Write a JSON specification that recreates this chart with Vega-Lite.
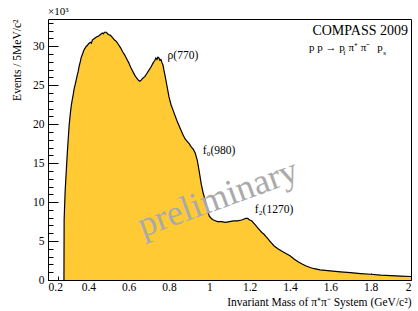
{
"$schema": "https://vega.github.io/schema/vega-lite/v6.json",
"autosize": {"type": "none"},
"padding": {"left": 48, "top": 19, "right": 7, "bottom": 31},
"width": 363,
"height": 261,
"config": {
  "font": "Liberation Serif",
  "view": {"stroke": "black", "strokeWidth": 1},
  "axis": {"labelFont": "Liberation Serif", "titleFont": "Liberation Serif", "labelFontSize": 11.5, "titleFontSize": 11.5, "labelColor": "black", "titleColor": "black", "tickColor": "black", "titleFontWeight": "normal", "grid": false, "domain": false, "zindex": 1}
},
"title": {"text": "×10³", "anchor": "start", "frame": "group", "fontSize": 11, "fontWeight": "normal", "font": "Liberation Serif", "offset": 2, "color": "black"},
"datasets": {
  "hist": [
{"m":0.279,"n":0},{"m":0.28,"n":7.7},{"m":0.285,"n":11.4},{"m":0.29,"n":13.7},{"m":0.295,"n":16.0},{"m":0.30,"n":18.0},{"m":0.305,"n":19.9},{"m":0.31,"n":21.2},{"m":0.315,"n":22.3},{"m":0.32,"n":23.1},{"m":0.325,"n":23.8},{"m":0.33,"n":24.6},{"m":0.335,"n":25.1},{"m":0.34,"n":25.7},{"m":0.345,"n":26.3},{"m":0.35,"n":26.8},{"m":0.355,"n":27.5},{"m":0.36,"n":28.0},{"m":0.365,"n":28.6},{"m":0.37,"n":28.9},{"m":0.375,"n":29.3},{"m":0.38,"n":29.6},{"m":0.385,"n":29.8},{"m":0.39,"n":30.0},{"m":0.395,"n":30.1},{"m":0.40,"n":30.3},{"m":0.41,"n":30.5},{"m":0.415,"n":30.4},{"m":0.42,"n":30.8},{"m":0.43,"n":31.0},{"m":0.44,"n":31.2},{"m":0.45,"n":31.3},{"m":0.46,"n":31.5},{"m":0.47,"n":31.7},{"m":0.475,"n":31.6},{"m":0.48,"n":31.8},{"m":0.49,"n":31.8},{"m":0.495,"n":31.6},{"m":0.50,"n":31.5},{"m":0.51,"n":31.4},{"m":0.52,"n":31.1},{"m":0.53,"n":30.8},{"m":0.54,"n":30.6},{"m":0.55,"n":30.2},{"m":0.56,"n":29.8},{"m":0.57,"n":29.3},{"m":0.58,"n":28.9},{"m":0.59,"n":28.4},{"m":0.60,"n":27.9},{"m":0.61,"n":27.3},{"m":0.62,"n":26.8},{"m":0.63,"n":26.3},{"m":0.64,"n":25.9},{"m":0.65,"n":25.6},{"m":0.655,"n":25.5},{"m":0.66,"n":25.6},{"m":0.67,"n":25.9},{"m":0.68,"n":26.1},{"m":0.69,"n":26.5},{"m":0.70,"n":26.9},{"m":0.71,"n":27.3},{"m":0.72,"n":27.8},{"m":0.73,"n":28.2},{"m":0.735,"n":28.5},{"m":0.74,"n":28.3},{"m":0.745,"n":28.6},{"m":0.75,"n":28.5},{"m":0.755,"n":28.2},{"m":0.76,"n":28.3},{"m":0.765,"n":27.9},{"m":0.77,"n":27.6},{"m":0.775,"n":26.9},{"m":0.78,"n":26.3},{"m":0.79,"n":24.9},{"m":0.80,"n":23.5},{"m":0.81,"n":22.5},{"m":0.82,"n":21.8},{"m":0.83,"n":21.1},{"m":0.84,"n":20.4},{"m":0.85,"n":19.8},{"m":0.86,"n":19.2},{"m":0.87,"n":18.6},{"m":0.88,"n":18.1},{"m":0.89,"n":17.8},{"m":0.90,"n":17.5},{"m":0.91,"n":17.1},{"m":0.92,"n":16.8},{"m":0.93,"n":16.3},{"m":0.94,"n":15.4},{"m":0.95,"n":13.9},{"m":0.96,"n":12.3},{"m":0.97,"n":11.1},{"m":0.98,"n":10.2},{"m":0.99,"n":9.0},{"m":1.00,"n":8.2},{"m":1.01,"n":7.9},{"m":1.02,"n":7.7},{"m":1.03,"n":7.6},{"m":1.04,"n":7.5},{"m":1.06,"n":7.5},{"m":1.08,"n":7.4},{"m":1.10,"n":7.5},{"m":1.12,"n":7.6},{"m":1.14,"n":7.6},{"m":1.16,"n":7.7},{"m":1.17,"n":7.8},{"m":1.18,"n":7.9},{"m":1.19,"n":7.9},{"m":1.20,"n":7.7},{"m":1.21,"n":7.6},{"m":1.22,"n":7.3},{"m":1.23,"n":7.0},{"m":1.24,"n":6.7},{"m":1.25,"n":6.4},{"m":1.26,"n":6.1},{"m":1.27,"n":5.9},{"m":1.28,"n":5.6},{"m":1.29,"n":5.3},{"m":1.30,"n":5.0},{"m":1.31,"n":4.7},{"m":1.32,"n":4.4},{"m":1.33,"n":4.2},{"m":1.34,"n":4.0},{"m":1.36,"n":3.7},{"m":1.38,"n":3.4},{"m":1.40,"n":3.1},{"m":1.42,"n":2.7},{"m":1.44,"n":2.35},{"m":1.46,"n":2.05},{"m":1.48,"n":1.8},{"m":1.50,"n":1.6},{"m":1.52,"n":1.45},{"m":1.55,"n":1.3},{"m":1.60,"n":1.18},{"m":1.65,"n":1.05},{"m":1.70,"n":0.94},{"m":1.75,"n":0.83},{"m":1.80,"n":0.74},{"m":1.85,"n":0.62},{"m":1.90,"n":0.56},{"m":1.95,"n":0.51},{"m":2.00,"n":0.45}
  ],
  "peaks": [
    {"m":0.793,"n":28.8,"t":"ρ(770)"},
    {"m":0.967,"n":16.5,"t":"f₀(980)"},
    {"m":1.225,"n":9.0,"t":"f₂(1270)"}
  ],
  "head": [{"m":1.985,"n":31.9,"t":"COMPASS 2009"}],
  "react": [
    {"m":1.494,"n":29.8,"t":"p p → p"},
    {"m":1.69,"n":29.8,"t":"π⁺ π⁻"},
    {"m":1.833,"n":29.8,"t":"p"}
  ],
  "subs": [
    {"m":1.664,"n":29.2,"t":"f"},
    {"m":1.862,"n":29.2,"t":"s"}
  ],
  "wm": [{"m":1.042,"n":10.5,"t":"preliminary"}]
},
"layer": [
  {
    "data": {"name": "hist"},
    "mark": {"type": "area", "color": "#ffca33", "interpolate": "linear"},
    "encoding": {
      "x": {"field": "m", "type": "quantitative", "scale": {"domain": [0.2, 2.0], "nice": false, "zero": false},
        "axis": {"orient": "bottom", "values": [0.2,0.4,0.6,0.8,1.0,1.2,1.4,1.6,1.8,2.0], "format": "~g", "tickSize": -7, "labelPadding": 8, "title": "Invariant Mass of π⁺π⁻ System (GeV/c²)", "titleX": 363, "titleY": 22, "titleAlign": "right", "titleBaseline": "middle", "titleAnchor": null}},
      "y": {"field": "n", "type": "quantitative", "scale": {"domain": [0, 33.5], "nice": false},
        "axis": {"orient": "left", "values": [0,5,10,15,20,25,30], "tickSize": -10, "labelPadding": 14, "title": "Events / 5MeV/c²", "titleX": -31, "titleY": 0, "titleAngle": 270, "titleAlign": "right", "titleBaseline": "middle", "titleAnchor": null}}
    }
  },
  {
    "data": {"name": "hist"},
    "mark": {"type": "line", "color": "black", "strokeWidth": 1.2, "interpolate": "linear"},
    "encoding": {
      "x": {"field": "m", "type": "quantitative",
        "axis": {"orient": "bottom", "values": [0.2,0.25,0.3,0.35,0.4,0.45,0.5,0.55,0.6,0.65,0.7,0.75,0.8,0.85,0.9,0.95,1.0,1.05,1.1,1.15,1.2,1.25,1.3,1.35,1.4,1.45,1.5,1.55,1.6,1.65,1.7,1.75,1.8,1.85,1.9,1.95,2.0], "tickSize": -4, "labels": false, "title": null}},
      "y": {"field": "n", "type": "quantitative",
        "axis": {"orient": "left", "values": [0,1,2,3,4,5,6,7,8,9,10,11,12,13,14,15,16,17,18,19,20,21,22,23,24,25,26,27,28,29,30,31,32,33], "tickSize": -5, "labels": false, "title": null}}
    }
  },
  {
    "data": {"name": "wm"},
    "mark": {"type": "text", "fontSize": 36, "color": "#aaaaaa", "angle": 340, "align": "center", "baseline": "middle", "font": "Liberation Serif"},
    "encoding": {"x": {"field": "m", "type": "quantitative", "axis": null}, "y": {"field": "n", "type": "quantitative", "axis": null}, "text": {"field": "t"}}
  },
  {
    "data": {"name": "peaks"},
    "mark": {"type": "text", "fontSize": 11.5, "color": "black", "align": "left", "baseline": "middle", "font": "Liberation Serif"},
    "encoding": {"x": {"field": "m", "type": "quantitative", "axis": null}, "y": {"field": "n", "type": "quantitative", "axis": null}, "text": {"field": "t"}}
  },
  {
    "data": {"name": "head"},
    "mark": {"type": "text", "fontSize": 14, "color": "black", "align": "right", "baseline": "middle", "font": "Liberation Serif"},
    "encoding": {"x": {"field": "m", "type": "quantitative", "axis": null}, "y": {"field": "n", "type": "quantitative", "axis": null}, "text": {"field": "t"}}
  },
  {
    "data": {"name": "react"},
    "mark": {"type": "text", "fontSize": 11, "color": "black", "align": "left", "baseline": "middle", "font": "Liberation Serif"},
    "encoding": {"x": {"field": "m", "type": "quantitative", "axis": null}, "y": {"field": "n", "type": "quantitative", "axis": null}, "text": {"field": "t"}}
  },
  {
    "data": {"name": "subs"},
    "mark": {"type": "text", "fontSize": 7, "color": "black", "align": "left", "baseline": "middle", "font": "Liberation Serif"},
    "encoding": {"x": {"field": "m", "type": "quantitative", "axis": null}, "y": {"field": "n", "type": "quantitative", "axis": null}, "text": {"field": "t"}}
  }
],
"resolve": {"axis": {"x": "independent", "y": "independent"}}
}
